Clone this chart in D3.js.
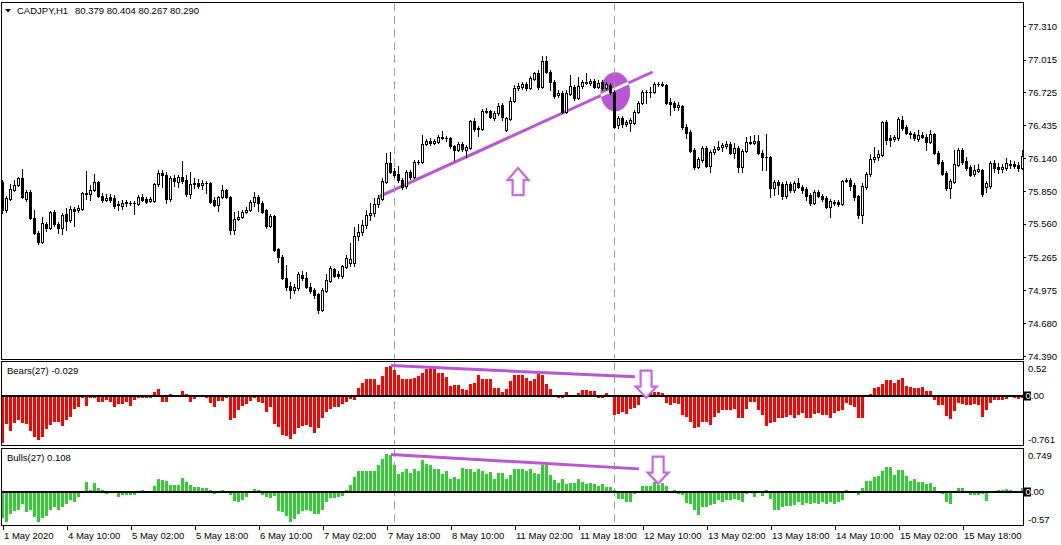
<!DOCTYPE html>
<html><head><meta charset="utf-8">
<script src="https://cdn.jsdelivr.net/npm/d3@7"></script>
<style>
html,body{margin:0;padding:0;background:#fff;overflow:hidden}
svg{display:block}
text{font-family:"Liberation Sans",Arial,sans-serif;font-size:9.5px;fill:#000}
</style></head><body>
<svg id="c" width="1061" height="545"></svg>
<script>
// ---------------- DATA ----------------
const symbolTitle = "CADJPY,H1";
const titleValues = "80.379 80.404 80.267 80.290";
const bearsTitle = "Bears(27) -0.029";
const bullsTitle = "Bulls(27) 0.108";

const timeLabels = ["1 May 2020","4 May 10:00","5 May 02:00","5 May 18:00","6 May 10:00","7 May 02:00",
  "7 May 18:00","8 May 10:00","11 May 02:00","11 May 18:00","12 May 10:00","13 May 02:00",
  "13 May 18:00","14 May 10:00","15 May 02:00","15 May 18:00"];
const timeLabelBars = [0,16,32,48,64,80,96,112,128,144,160,176,192,208,224,240];

const priceTicks = [77.310,77.015,76.725,76.435,76.140,75.850,75.560,75.265,74.975,74.680,74.390];
const bearsTicks = [0.52,0.00,-0.761];
const bullsTicks = [0.749,0.00,-0.57];

const opens = [
75.931,75.683,75.781,75.861,75.905,75.967,75.781,75.843,75.613,75.479,
75.400,75.560,75.524,75.665,75.560,75.524,75.648,75.595,75.692,75.683,
75.692,75.825,75.825,75.861,75.931,75.807,75.772,75.799,75.790,75.737,
75.719,75.745,75.745,75.745,75.737,75.799,75.781,75.763,75.763,75.914,
76.011,75.994,75.781,75.967,75.931,75.976,75.949,75.825,75.914,75.922,
75.905,75.922,75.922,75.772,75.728,75.799,75.861,75.799,75.506,75.604,
75.621,75.665,75.683,75.754,75.799,75.745,75.683,75.542,75.630,75.338,
75.267,75.081,75.010,74.975,74.992,75.107,75.081,75.001,74.975,74.939,
74.797,74.966,75.054,75.161,75.116,75.099,75.178,75.214,75.214,75.453,
75.489,75.551,75.639,75.656,75.737,75.781,75.931,76.100,76.029,76.002,
75.949,75.896,76.020,75.976,76.109,76.109,76.268,76.295,76.277,76.286,
76.321,76.321,76.321,76.250,76.215,76.268,76.215,76.233,76.472,76.401,
76.401,76.552,76.560,76.498,76.543,76.614,76.392,76.490,76.649,76.764,
76.773,76.800,76.764,76.844,76.897,76.773,77.004,76.906,76.818,76.702,
76.720,76.552,76.711,76.773,76.676,76.782,76.809,76.809,76.826,76.773,
76.818,76.764,76.791,76.729,76.437,76.498,76.445,76.454,76.454,76.552,
76.631,76.728,76.729,76.729,76.800,76.800,76.791,76.640,76.631,76.596,
76.605,76.419,76.375,76.215,76.064,76.126,76.233,76.073,76.197,76.224,
76.241,76.250,76.268,76.188,76.233,76.064,76.206,76.277,76.277,76.295,
76.188,76.153,76.153,75.878,75.931,75.914,75.807,75.914,75.861,75.922,
75.887,75.869,75.816,75.745,75.843,75.807,75.790,75.710,75.754,75.754,
75.737,75.940,75.949,75.905,75.807,75.639,75.887,76.002,76.135,76.153,
76.171,76.463,76.321,76.312,76.321,76.481,76.419,76.366,76.357,76.312,
76.348,76.330,76.286,76.357,76.188,76.109,76.011,75.878,75.931,76.082,
76.215,76.118,76.064,76.002,76.029,76.038,75.887,75.896,76.100,76.064,
76.047,76.056,76.091,76.091,76.082,76.056];

const highs = [
75.949,75.807,75.914,75.949,75.976,76.047,75.861,75.861,75.683,75.497,
75.621,75.577,75.674,75.683,75.577,75.656,75.701,75.719,75.710,75.728,
75.843,76.029,75.905,76.002,75.940,75.834,75.825,75.825,75.816,75.763,
75.772,75.772,75.763,75.763,75.816,75.825,75.799,75.799,75.922,76.038,
76.038,76.020,75.985,75.994,75.994,76.118,75.994,76.020,75.967,75.958,
75.949,75.940,75.931,75.799,75.807,75.905,75.869,75.807,75.665,75.674,
75.683,75.710,75.772,75.843,75.816,75.763,75.692,75.648,75.639,75.347,
75.285,75.196,75.045,75.028,75.134,75.143,75.134,75.036,74.992,74.948,
74.992,75.116,75.187,75.170,75.143,75.196,75.285,75.391,75.533,75.560,
75.595,75.683,75.745,75.790,75.816,75.967,76.188,76.197,76.056,76.073,
75.967,76.038,76.038,76.126,76.126,76.348,76.312,76.321,76.312,76.348,
76.383,76.339,76.330,76.259,76.286,76.286,76.259,76.481,76.498,76.428,
76.578,76.587,76.569,76.560,76.631,76.631,76.507,76.685,76.791,76.809,
76.818,76.818,76.871,76.906,76.924,77.048,77.048,76.924,76.835,76.747,
76.738,76.747,76.879,76.791,76.862,76.835,76.897,76.844,76.844,76.835,
76.835,76.818,76.809,76.747,76.516,76.516,76.481,76.498,76.569,76.649,
76.747,76.747,76.773,76.818,76.818,76.818,76.800,76.676,76.649,76.640,
76.614,76.445,76.392,76.233,76.153,76.250,76.250,76.215,76.250,76.295,
76.277,76.295,76.286,76.277,76.250,76.224,76.330,76.339,76.348,76.348,
76.215,76.357,76.162,75.949,75.949,75.931,75.940,75.931,75.940,75.967,
75.905,75.887,75.834,75.861,75.861,75.825,75.807,75.781,75.772,75.772,
75.949,75.967,75.967,75.922,75.816,75.922,76.020,76.180,76.241,76.215,
76.472,76.481,76.348,76.348,76.507,76.516,76.436,76.383,76.375,76.392,
76.375,76.357,76.392,76.366,76.206,76.126,76.029,75.958,76.215,76.233,
76.233,76.153,76.082,76.082,76.091,76.047,75.940,76.118,76.126,76.100,
76.091,76.144,76.126,76.118,76.109,76.215];

const lows = [
75.656,75.665,75.772,75.852,75.896,75.790,75.763,75.604,75.471,75.382,
75.391,75.497,75.515,75.542,75.479,75.471,75.506,75.577,75.542,75.665,
75.683,75.781,75.772,75.852,75.799,75.754,75.763,75.754,75.701,75.683,
75.692,75.719,75.728,75.648,75.728,75.763,75.745,75.754,75.754,75.896,
75.887,75.745,75.763,75.896,75.887,75.922,75.807,75.790,75.878,75.878,
75.869,75.834,75.745,75.719,75.674,75.790,75.790,75.471,75.471,75.595,
75.613,75.656,75.674,75.719,75.674,75.656,75.524,75.533,75.320,75.223,
75.072,74.975,74.904,74.948,74.975,75.063,74.992,74.948,74.904,74.771,
74.788,74.957,75.045,75.090,75.081,75.081,75.170,75.187,75.187,75.418,
75.462,75.524,75.595,75.630,75.710,75.772,75.922,76.011,75.976,75.931,
75.869,75.878,75.958,75.967,76.091,76.100,76.259,76.259,76.268,76.277,
76.312,76.295,76.233,76.126,76.206,76.206,76.153,76.224,76.383,76.339,
76.392,76.543,76.498,76.481,76.525,76.481,76.383,76.481,76.640,76.747,
76.755,76.747,76.755,76.835,76.755,76.764,76.897,76.747,76.676,76.685,
76.543,76.543,76.702,76.658,76.667,76.764,76.800,76.791,76.764,76.764,
76.747,76.747,76.711,76.410,76.410,76.419,76.428,76.383,76.445,76.543,
76.622,76.631,76.685,76.720,76.782,76.782,76.622,76.525,76.569,76.569,
76.401,76.321,76.197,76.047,76.056,76.109,76.064,76.020,76.180,76.215,
76.206,76.233,76.180,76.144,76.020,76.020,76.197,76.268,76.268,76.180,
76.038,76.038,75.799,75.816,75.825,75.781,75.790,75.843,75.843,75.878,
75.834,75.772,75.728,75.737,75.799,75.763,75.701,75.621,75.728,75.719,
75.728,75.931,75.861,75.772,75.613,75.568,75.869,75.985,76.109,76.126,
76.162,76.268,76.250,76.295,76.304,76.392,76.357,76.321,76.304,76.295,
76.321,76.215,76.277,76.180,76.091,75.994,75.861,75.790,75.922,76.073,
76.091,76.038,75.985,75.985,76.020,75.807,75.843,75.878,76.020,76.011,
76.020,76.038,76.056,76.056,76.029,76.047];

const closes = [
75.683,75.790,75.869,75.905,75.967,75.799,75.843,75.613,75.479,75.400,
75.568,75.524,75.665,75.560,75.524,75.639,75.586,75.692,75.674,75.701,
75.834,75.834,75.861,75.931,75.807,75.772,75.790,75.772,75.719,75.728,
75.745,75.754,75.746,75.744,75.799,75.772,75.754,75.781,75.914,76.011,
75.994,75.781,75.967,75.940,75.976,75.940,75.825,75.914,75.922,75.896,
75.922,75.921,75.754,75.728,75.799,75.861,75.799,75.506,75.604,75.621,
75.665,75.683,75.754,75.799,75.745,75.665,75.542,75.630,75.329,75.267,
75.081,75.001,74.975,75.001,75.116,75.081,75.001,74.966,74.930,74.797,
74.975,75.063,75.170,75.099,75.099,75.187,75.258,75.249,75.453,75.489,
75.551,75.639,75.656,75.737,75.790,75.940,76.100,76.020,75.994,75.949,
75.887,76.020,75.976,76.109,76.110,76.268,76.295,76.277,76.295,76.330,
76.330,76.320,76.250,76.215,76.268,76.224,76.241,76.472,76.401,76.410,
76.560,76.561,76.507,76.543,76.605,76.507,76.498,76.649,76.764,76.782,
76.800,76.764,76.853,76.897,76.773,77.004,76.906,76.817,76.693,76.720,
76.552,76.720,76.782,76.676,76.782,76.818,76.818,76.826,76.773,76.809,
76.764,76.800,76.729,76.419,76.498,76.445,76.463,76.481,76.552,76.631,
76.729,76.730,76.731,76.800,76.801,76.791,76.631,76.622,76.596,76.614,
76.419,76.366,76.206,76.064,76.135,76.233,76.073,76.197,76.224,76.241,
76.259,76.268,76.188,76.233,76.064,76.206,76.286,76.286,76.295,76.188,
76.153,76.154,75.878,75.931,75.905,75.807,75.914,75.861,75.922,75.887,
75.861,75.807,75.745,75.843,75.807,75.781,75.710,75.763,75.745,75.737,
75.940,75.949,75.896,75.799,75.639,75.896,76.002,76.135,76.153,76.180,
76.463,76.304,76.304,76.330,76.490,76.410,76.366,76.357,76.321,76.348,
76.330,76.286,76.357,76.188,76.100,76.002,75.878,75.940,76.091,76.215,
76.109,76.056,75.994,76.038,76.047,75.825,75.922,76.100,76.056,76.047,
76.064,76.100,76.082,76.073,76.056,76.162];

const bears = [
-0.72,-0.43,-0.54,-0.42,-0.375,-0.42,-0.43,-0.54,-0.63,-0.68,
-0.63,-0.51,-0.45,-0.40,-0.40,-0.46,-0.375,-0.32,-0.205,-0.17,
-0.04,-0.155,-0.03,-0.04,-0.09,-0.09,-0.065,-0.09,-0.17,-0.13,
-0.13,-0.09,-0.155,-0.07,-0.04,-0.04,-0.04,-0.04,0.05,0.10,
-0.09,-0.10,0.02,-0.01,-0.01,0.07,0.03,-0.10,-0.05,0,
0,-0.04,-0.115,-0.18,-0.075,-0.075,-0.04,-0.375,-0.34,-0.22,
-0.155,-0.13,-0.08,-0.04,-0.09,-0.115,-0.245,-0.18,-0.43,-0.48,
-0.60,-0.62,-0.66,-0.58,-0.49,-0.46,-0.45,-0.48,-0.565,-0.50,
-0.34,-0.245,-0.205,-0.18,-0.17,-0.13,-0.09,-0.05,-0.07,0.12,
0.195,0.25,0.26,0.25,0.155,0.30,0.43,0.45,0.39,0.32,
0.26,0.25,0.26,0.27,0.30,0.34,0.40,0.43,0.41,0.35,
0.35,0.28,0.14,0.16,0.16,0.10,0.09,0.17,0.195,0.31,
0.26,0.25,0.25,0.12,0.12,0.06,0.10,0.22,0.32,0.32,
0.31,0.27,0.22,0.26,0.33,0.32,0.18,0.10,0.015,-0.035,
-0.03,0.05,0,-0.01,0.04,0.09,0.09,0.065,0.065,-0.035,
-0.04,0.035,-0.025,-0.30,-0.28,-0.25,-0.28,-0.21,-0.19,-0.15,
-0.025,0.01,0.035,0.06,0.06,0.035,-0.12,-0.15,-0.12,-0.13,
-0.30,-0.32,-0.40,-0.50,-0.48,-0.41,-0.41,-0.45,-0.325,-0.26,
-0.215,-0.215,-0.215,-0.20,-0.345,-0.335,-0.20,-0.09,-0.10,-0.215,
-0.29,-0.46,-0.42,-0.40,-0.345,-0.345,-0.32,-0.29,-0.345,-0.29,
-0.27,-0.345,-0.335,-0.28,-0.27,-0.29,-0.29,-0.345,-0.27,-0.24,
-0.215,-0.11,-0.14,-0.18,-0.335,-0.345,-0.01,0.03,0.12,0.13,
0.18,0.245,0.245,0.195,0.245,0.27,0.145,0.13,0.12,0.12,
0.13,0.065,0.075,-0.06,-0.15,-0.15,-0.31,-0.36,-0.23,-0.11,
-0.13,-0.14,-0.15,-0.13,-0.14,-0.32,-0.22,-0.12,-0.06,-0.06,
-0.06,-0.05,-0.01,-0.04,-0.045,-0.03];

const bulls = [
-0.445,-0.51,-0.37,-0.325,-0.30,-0.20,-0.34,-0.31,-0.43,-0.51,
-0.445,-0.415,-0.31,-0.26,-0.31,-0.245,-0.20,-0.14,-0.16,-0.085,
0,0.18,0.045,0.155,0.075,0.045,-0.03,0,0.005,-0.085,
-0.045,-0.045,-0.045,-0.045,0,0.03,0,0.005,0.115,0.22,
0.21,0.20,0.125,0.125,0.125,0.245,0.17,0.125,0.085,0.085,
0.075,0.07,0.03,-0.03,0,0.04,0,-0.045,-0.145,-0.17,
-0.13,-0.085,0,0.055,0.03,-0.045,-0.085,-0.10,-0.06,-0.33,
-0.34,-0.40,-0.51,-0.46,-0.37,-0.33,-0.30,-0.325,-0.37,-0.37,
-0.31,-0.17,-0.10,-0.10,-0.085,-0.06,0.04,0.125,0.26,0.37,
0.37,0.37,0.37,0.37,0.46,0.57,0.66,0.63,0.47,0.31,
0.34,0.40,0.33,0.40,0.37,0.56,0.485,0.46,0.40,0.40,
0.31,0.37,0.23,0.26,0.23,0.42,0.40,0.40,0.34,0.39,
0.37,0.31,0.34,0.23,0.33,0.33,0.23,0.30,0.40,0.40,
0.40,0.37,0.40,0.33,0.31,0.47,0.46,0.30,0.21,0.16,
0.22,0.14,0.16,0.155,0.22,0.18,0.14,0.16,0.14,0.115,
0.14,0.085,0.085,0.03,-0.115,-0.115,-0.17,-0.17,-0.03,0,
0.115,0.10,0.10,0.18,0.13,0.155,0.10,0,0.03,-0.03,
-0.045,-0.18,-0.20,-0.31,-0.39,-0.26,-0.26,-0.22,-0.20,-0.125,
-0.16,-0.125,-0.125,-0.115,-0.125,-0.16,-0.03,0,-0.085,0,
-0.07,0.04,-0.115,-0.30,-0.30,-0.26,-0.24,-0.23,-0.22,-0.17,
-0.22,-0.19,-0.20,-0.19,-0.20,-0.17,-0.20,-0.17,-0.20,-0.17,
-0.14,0.04,0,0,-0.045,0.07,0.20,0.20,0.26,0.285,
0.37,0.44,0.44,0.30,0.38,0.38,0.27,0.20,0.22,0.17,
0.18,0.14,0.16,0.085,0,-0.03,-0.17,-0.20,0,0.075,
0.075,0,-0.045,-0.055,-0.045,-0.03,-0.15,0.01,0.02,0.03,
0.03,0.05,0.03,0,0,0.07];

// annotation anchors (bar index, value)
const vLineBars = [98, 153];
const mainTrend = [[94, 75.799], [162.5, 76.906]];
const bearsTrend = [[97.1, 0.458], [158.1, 0.289]];
const bullsTrend = [[97.1, 0.645], [159.1, 0.40]];
const ellipseAnchor = {bar: 153.2, price: 76.73, halfBars: 3.7, halfPrice: 0.173};
const upArrowAnchor = [128.9, 75.816];
const bearsArrowAnchor = [160.9, 0.38];
const bullsArrowAnchor = [163.9, 0.61];

// ---------------- DRAW ----------------
const svg = d3.select("#c");
const LEFT = 1.5, RIGHT = 1023.5;
const panes = {
  main: {top: 2.5, bottom: 359.5},
  bears: {top: 361.5, bottom: 445.5},
  bulls: {top: 448.5, bottom: 525.5}
};
const PURPLE = "#BA55D3";
const ARROW = "#C768E3";

const x = d3.scaleLinear().domain([0, 1]).range([2.5, 6.5]);
const yMain = d3.scaleLinear().domain([74.390, 77.310]).range([356, 26.4]);
const yBears = d3.scaleLinear().domain([bearsTicks[2], bearsTicks[0]]).range([panes.bears.bottom, panes.bears.top]);
const yBulls = d3.scaleLinear().domain([bullsTicks[2], bullsTicks[0]]).range([panes.bulls.bottom, panes.bulls.top]);

const defs = svg.append("defs");
Object.entries(panes).forEach(([k, p]) => {
  defs.append("clipPath").attr("id", "clip-" + k).append("rect")
    .attr("x", 2).attr("y", p.top + 0.5).attr("width", RIGHT - 2.5).attr("height", p.bottom - p.top - 1);
});

function paneGroup(k) {
  return svg.append("g").attr("clip-path", `url(#clip-${k})`);
}

// ---- main pane ----
const gMain = paneGroup("main");
const ecx = x(ellipseAnchor.bar), ecy = yMain(ellipseAnchor.price);
const erx = x(ellipseAnchor.bar + ellipseAnchor.halfBars) - ecx;
const ery = yMain(ellipseAnchor.price - ellipseAnchor.halfPrice) - ecy;
defs.append("clipPath").attr("id", "clip-ell").append("ellipse")
  .attr("cx", ecx).attr("cy", ecy).attr("rx", erx).attr("ry", ery);
gMain.append("ellipse").attr("cx", ecx).attr("cy", ecy).attr("rx", erx).attr("ry", ery).attr("fill", PURPLE);

const lineMain = d3.line().x(d => x(d[0])).y(d => yMain(d[1]));
gMain.append("path").attr("d", lineMain(mainTrend)).attr("stroke", PURPLE).attr("stroke-width", 3).attr("fill", "none");
gMain.append("path").attr("d", lineMain(mainTrend)).attr("stroke", "#fff").attr("stroke-width", 3)
  .attr("fill", "none").attr("clip-path", "url(#clip-ell)");

function vLines(g, p) {
  g.selectAll("line.vl").data(vLineBars).join("line").attr("class", "vl")
    .attr("x1", d => x(d)).attr("x2", d => x(d)).attr("y1", p.top).attr("y2", p.bottom)
    .attr("stroke", "#A0A0A0").attr("stroke-width", 1).attr("stroke-dasharray", "8,5")
    .attr("shape-rendering", "crispEdges");
}
vLines(gMain, panes.main);

const bars = d3.range(closes.length).map(i => ({i, o: opens[i], h: highs[i], l: lows[i], c: closes[i]}));
const gC = gMain.append("g").attr("shape-rendering", "crispEdges");
gC.selectAll("line.wick").data(bars).join("line").attr("class", "wick")
  .attr("x1", d => x(d.i)).attr("x2", d => x(d.i))
  .attr("y1", d => Math.round(yMain(d.h))).attr("y2", d => Math.round(yMain(d.l)) + 1)
  .attr("stroke", "#000").attr("stroke-width", 1);
bars.forEach(d => {
  const yt = Math.round(yMain(Math.max(d.o, d.c)));
  const yb = Math.round(yMain(Math.min(d.o, d.c)));
  if (yb - yt < 2) {
    gC.append("rect").attr("x", x(d.i) - 1.5).attr("y", yt).attr("width", 3).attr("height", Math.max(1, yb - yt + 1)).attr("fill", "#000");
  } else if (d.c > d.o) {
    gC.append("rect").attr("x", x(d.i) - 1).attr("y", yt + 0.5).attr("width", 2).attr("height", yb - yt)
      .attr("fill", "#fff").attr("stroke", "#000").attr("stroke-width", 1);
  } else {
    gC.append("rect").attr("x", x(d.i) - 1.5).attr("y", yt).attr("width", 3).attr("height", yb - yt + 1).attr("fill", "#000");
  }
});

function upArrowPath(cx, by) {
  const pts = [[-5.5,0],[-5.5,-15],[-10.5,-15],[0,-27],[10.5,-15],[5.5,-15],[5.5,0]];
  return "M" + pts.map(p => [cx + p[0], by + p[1]].join(",")).join("L") + "Z";
}
function downArrowPath(cx, ty) {
  const pts = [[-5.5,0],[5.5,0],[5.5,16],[10.5,16],[0,27],[-10.5,16],[-5.5,16]];
  return "M" + pts.map(p => [cx + p[0], ty + p[1]].join(",")).join("L") + "Z";
}
gMain.append("path").attr("d", upArrowPath(x(upArrowAnchor[0]), yMain(upArrowAnchor[1])))
  .attr("fill", "#fff").attr("stroke", ARROW).attr("stroke-width", 2.2).attr("stroke-linejoin", "miter");

// ---- indicator panes ----
function histPane(k, yS, vals, color, trend, arrowAnchor) {
  const p = panes[k];
  const g = paneGroup(k);
  vLines(g, p);
  const zy = Math.round(yS(0));
  g.append("g").attr("shape-rendering", "crispEdges").selectAll("rect").data(vals.map((v, i) => ({v, i})))
    .join("rect")
    .attr("x", d => x(d.i) - 1.5).attr("width", 3)
    .attr("y", d => Math.min(Math.round(yS(d.v)), zy))
    .attr("height", d => Math.abs(Math.round(yS(d.v)) - zy))
    .attr("fill", color);
  g.append("line").attr("x1", LEFT).attr("x2", RIGHT).attr("y1", zy).attr("y2", zy)
    .attr("stroke", "#000").attr("stroke-width", 2).attr("shape-rendering", "crispEdges");
  const ln = d3.line().x(d => x(d[0])).y(d => yS(d[1]));
  g.append("path").attr("d", ln(trend)).attr("stroke", PURPLE).attr("stroke-width", 3).attr("fill", "none");
  g.append("path").attr("d", downArrowPath(x(arrowAnchor[0]), yS(arrowAnchor[1])))
    .attr("fill", "#fff").attr("stroke", ARROW).attr("stroke-width", 2.2);
  return zy;
}
const zB = histPane("bears", yBears, bears, "#FF0000", bearsTrend, bearsArrowAnchor);
const zU = histPane("bulls", yBulls, bulls, "#32CD32", bullsTrend, bullsArrowAnchor);

// ---- frames ----
Object.values(panes).forEach(p => {
  svg.append("rect").attr("x", LEFT).attr("y", p.top).attr("width", RIGHT - LEFT).attr("height", p.bottom - p.top)
    .attr("fill", "none").attr("stroke", "#000").attr("stroke-width", 1).attr("shape-rendering", "crispEdges");
});

// ---- price axis ----
const axMain = svg.append("g").attr("transform", `translate(${RIGHT - 0.5},0)`)
  .call(d3.axisRight(yMain).tickValues(priceTicks).tickSize(3).tickPadding(2).tickFormat(d3.format(".3f")));
axMain.select(".domain").remove();
axMain.selectAll("text").style("font-family", '"Liberation Sans",Arial,sans-serif').style("font-size", "9.5px");
axMain.selectAll("line").attr("shape-rendering", "crispEdges");

function subLabels(p, ticks, zy) {
  const fmt = v => v === 0 ? "0.00" : String(v);
  const ys = [p.top + 7, zy, p.bottom - 6];
  ticks.forEach((v, j) => {
    if (v === 0) {
      svg.append("rect").attr("x", 1024).attr("y", zy - 4.5).attr("width", 7).attr("height", 9).attr("fill", "#000");
      const t = svg.append("text").attr("x", 1025.5).attr("y", zy).attr("dy", "0.35em");
      t.append("tspan").text("0").style("fill", "#fff");
      t.append("tspan").text(".00");
    } else {
      svg.append("text").attr("x", 1028).attr("y", ys[j]).attr("dy", "0.35em").text(fmt(v));
    }
  });
}
subLabels(panes.bears, bearsTicks, zB);
subLabels(panes.bulls, bullsTicks, zU);

// ---- time axis ----
const axT = svg.append("g").attr("transform", `translate(0,${panes.bulls.bottom})`)
  .call(d3.axisBottom(x).tickValues(timeLabelBars).tickSize(4).tickPadding(3)
    .tickFormat((d, i) => timeLabels[i]));
axT.select(".domain").remove();
axT.selectAll("line").attr("shape-rendering", "crispEdges");
axT.selectAll("text").attr("text-anchor", "start").attr("x", 1)
  .style("font-family", '"Liberation Sans",Arial,sans-serif').style("font-size", "9.5px");

// ---- titles ----
svg.append("path").attr("d", "M5,9L11,9L8,12.5Z").attr("fill", "#000");
svg.append("text").attr("x", 17).attr("y", 13.5).text(symbolTitle);
svg.append("text").attr("x", 75).attr("y", 13.5).text(titleValues);
svg.append("text").attr("x", 7).attr("y", 374).text(bearsTitle);
svg.append("text").attr("x", 7).attr("y", 461).text(bullsTitle);
</script>
</body></html>
